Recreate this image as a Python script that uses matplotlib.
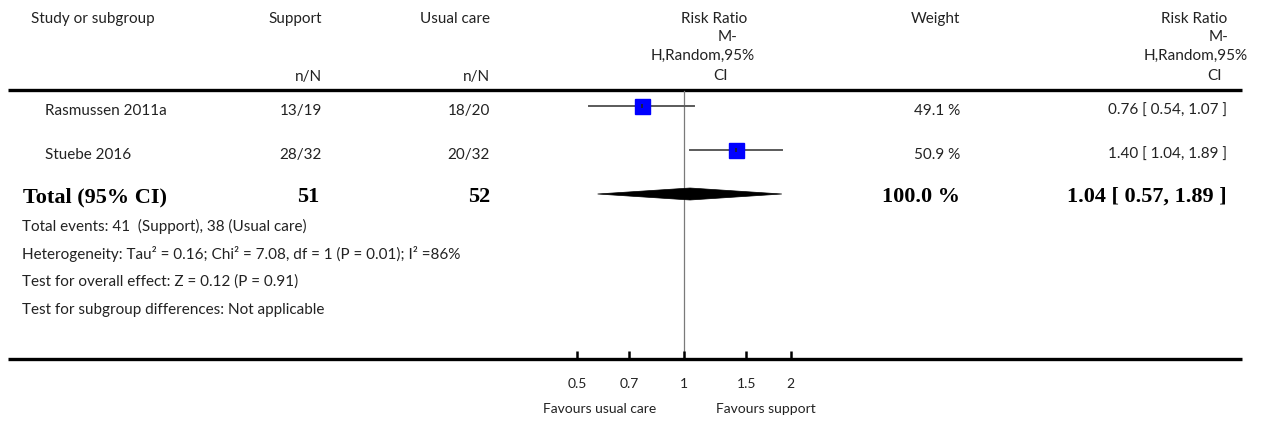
import matplotlib
matplotlib.use("Agg")
import matplotlib.pyplot as plt
from matplotlib.patches import Polygon
import numpy as np

# ---------------------------------------------------------------------------
# Data
# ---------------------------------------------------------------------------
studies = ["Rasmussen 2011a", "Stuebe 2016"]
support_nN = ["13/19", "28/32"]
usual_nN = ["18/20", "20/32"]
rr = [0.76, 1.40]
rr_lo = [0.54, 1.04]
rr_hi = [1.07, 1.89]
weights = [49.1, 50.9]

total_support = 51
total_usual = 52
total_rr = 1.04
total_lo = 0.57
total_hi = 1.89
total_weight = 100.0

footnotes = [
    "Total events: 41  (Support), 38 (Usual care)",
    "Heterogeneity: Tau² = 0.16; Chi² = 7.08, df = 1 (P = 0.01); I² =86%",
    "Test for overall effect: Z = 0.12 (P = 0.91)",
    "Test for subgroup differences: Not applicable",
]

ticks = [0.5, 0.7, 1, 1.5, 2]
tick_labels = ["0.5", "0.7", "1", "1.5", "2"]

# ---------------------------------------------------------------------------
# Layout (pixels)
# ---------------------------------------------------------------------------
W, H = 1268, 428
X_ONE = 684          # pixel position of RR = 1
PX_PER_LN = 153.65   # pixels per natural-log unit

BODY = "Lato"
BOLD = "Liberation Serif"
TXT = "#222222"
FS = 11
FS_BOLD = 16
FS_AXIS = 10

fig = plt.figure(figsize=(W / 100, H / 100), dpi=100)
fig.patch.set_facecolor("white")
ax = fig.add_axes([0, 0, 1, 1])
ax.set_xscale("log")
ax.set_xlim(np.exp(-X_ONE / PX_PER_LN), np.exp((W - X_ONE) / PX_PER_LN))
ax.set_ylim(H, 0)
ax.axis("off")

yx = ax.get_yaxis_transform()


def px_to_rr(xpx):
    return np.exp((xpx - X_ONE) / PX_PER_LN)


def put(xpx, ypx, s, ha="left", bold=False, size=None):
    ax.text(xpx / W, ypx, s, transform=yx, ha=ha, va="center",
            family=BOLD if bold else BODY,
            fontweight="bold" if bold else "normal",
            fontsize=size or (FS_BOLD if bold else FS),
            color="black" if bold else TXT)


# ── Header ───────────────────────────────────────────────────────────────
header_lines = [("Risk Ratio", 19), ("M-", 37), ("H,Random,95%", 56), ("CI", 76)]

put(31, 19, "Study or subgroup")
put(322, 19, "Support", ha="right")
put(490, 19, "Usual care", ha="right")
put(322, 77, "n/N", ha="right")
put(490, 77, "n/N", ha="right")
for dx, (txt, y) in zip([747, 737, 755, 728], header_lines):
    put(dx, y, txt, ha="right")
put(960, 19, "Weight", ha="right")
for dx, (txt, y) in zip([1227, 1229, 1248, 1222], header_lines):
    put(dx, y, txt, ha="right")

# rules
for ry in (89.5, 358.5):
    ax.plot([8 / W, 1242 / W], [ry, ry], transform=yx, color="black", lw=2.4,
            solid_capstyle="butt")

# line of no effect
ax.plot([1, 1], [91, 357], color="#7a7a7a", lw=0.9)

# ── Study rows ───────────────────────────────────────────────────────────
row_y = [106, 150]
for i, y in enumerate(row_y):
    ty = y + 5
    put(45, ty, studies[i])
    put(322, ty, support_nN[i], ha="right")
    put(490, ty, usual_nN[i], ha="right")
    put(960, ty, f"{weights[i]:.1f} %", ha="right")
    put(1227, ty, f"{rr[i]:.2f} [ {rr_lo[i]:.2f}, {rr_hi[i]:.2f} ]", ha="right")

    ax.plot([rr_lo[i], rr_hi[i]], [y, y], color="#5a5a5a", lw=1.4, zorder=2)
    ax.plot([rr[i]], [y], marker="s", ms=10.8, color="#0000ff", mec="#0000ff", zorder=3)
    ax.plot([rr[i]], [y], marker="|", ms=3.5, color="#222222", mew=1.2, zorder=4)

# ── Total row ────────────────────────────────────────────────────────────
tot_y = 194
put(23, tot_y + 3, "Total (95% CI)", bold=True)
put(319, tot_y + 3, str(total_support), ha="right", bold=True)
put(490, tot_y + 3, str(total_usual), ha="right", bold=True)
put(960, tot_y + 3, f"{total_weight:.1f} %", ha="right", bold=True)
put(1227, tot_y + 3, f"{total_rr:.2f} [ {total_lo:.2f}, {total_hi:.2f} ]", ha="right", bold=True)

half_h = 6
diamond = Polygon([(total_lo, tot_y), (total_rr, tot_y - half_h),
                   (total_hi, tot_y), (total_rr, tot_y + half_h)],
                  closed=True, facecolor="black", edgecolor="black", lw=0.5, zorder=3)
ax.add_patch(diamond)

# ── Footnotes ────────────────────────────────────────────────────────────
for k, note in enumerate(footnotes):
    put(22, 226 + k * 28, note)

# ── Axis ticks and labels ────────────────────────────────────────────────
ax.vlines(ticks, 351, 358, color="black", lw=1.8)
for t, lab in zip(ticks, tick_labels):
    ax.text(t, 384, lab, ha="center", va="center", family=BODY, fontsize=FS_AXIS, color=TXT)
ax.text(px_to_rr(600), 409, "Favours usual care", ha="center", va="center",
        family=BODY, fontsize=FS_AXIS, color=TXT)
ax.text(px_to_rr(766), 409, "Favours support", ha="center", va="center",
        family=BODY, fontsize=FS_AXIS, color=TXT)

fig.savefig("out.png", dpi=100, facecolor=fig.get_facecolor())
plt.close(fig)
